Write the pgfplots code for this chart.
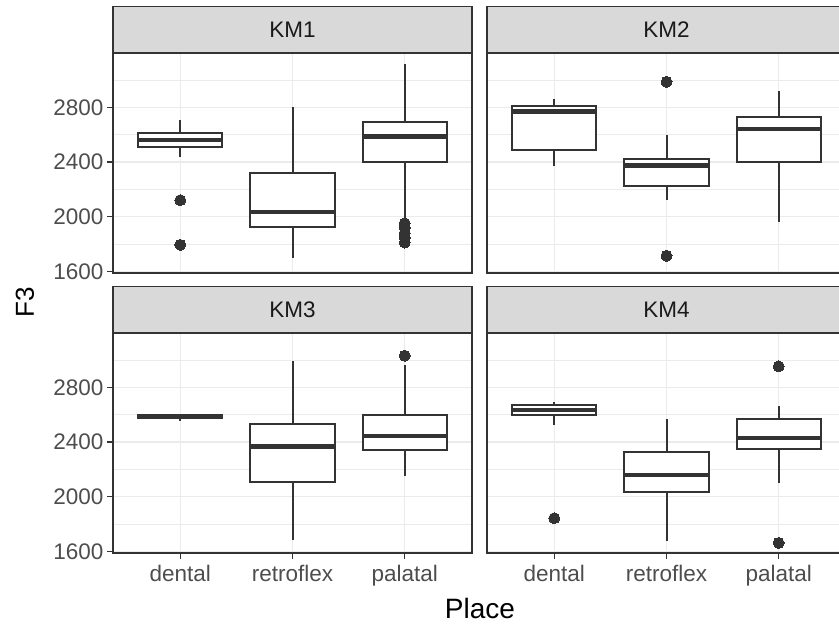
\documentclass[border=0pt]{standalone}
\usepackage{fontspec}
\setmainfont{Liberation Sans}
\usepackage{pgfplots}
\pgfplotsset{compat=1.18}
\definecolor{g20}{HTML}{333333}
\definecolor{g30}{HTML}{4D4D4D}
\definecolor{g10}{HTML}{1A1A1A}
\definecolor{stripc}{HTML}{D9D9D9}
\definecolor{gridc}{HTML}{EBEBEB}
\newcommand\tsz{\fontsize{22.5bp}{27bp}\selectfont}
\newcommand\lsz{\fontsize{28bp}{33bp}\selectfont}
\pgfplotsset{
  facet/.style={
    scale only axis, width=359bp, height=220bp, anchor=south west,
    xmin=0.4, xmax=3.6, ymin=1588, ymax=3198,
    xtick={1,2,3}, ytick={1600,2000,2400,2800}, minor ytick={1800,2200,2600,3000},
    grid=both, tick pos=left,
    major grid style={draw=gridc, line width=1.4bp},
    minor grid style={draw=gridc, line width=0.7bp},
    axis line style={draw=g20, line width=1.4bp},
    tick align=outside, major tick length=6bp, minor tick length=0pt,
    tick style={draw=g20, line width=1.4bp},
    ticklabel style={font=\tsz, text=g30},
    xticklabel style={yshift=-3bp},
    every axis title shift=0pt,
    title style={at={(0.5,1)}, anchor=south, yshift=0pt, fill=stripc, draw=g20,
      line width=1.4bp, minimum width=359bp, minimum height=46bp, inner sep=0pt,
      font=\tsz, text=g10},
    clip=false,
  },
  bline/.style={draw=g20, line width=2bp, mark=none, solid},
  mline/.style={draw=g20, line width=4.5bp, mark=none, solid},
  omark/.style={only marks, mark=*, mark size=5.5bp, mark options={draw=g20, fill=g20, line width=0pt}},
  topx/.style={xticklabels={}, x tick style={draw=none}},
  botx/.style={xticklabels={dental,retroflex,palatal}},
  lefty/.style={yticklabels={1600,2000,2400,2800}},
  righty/.style={yticklabels={}, y tick style={draw=none}},
}
% box: left x, centre x, right x, lower whisker, lower quartile, median, upper quartile, upper whisker
\newcommand\bx[8]{%
  \addplot[bline] coordinates {(#2,#4) (#2,#5)};
  \addplot[bline] coordinates {(#2,#7) (#2,#8)};
  \addplot[bline, fill=white] coordinates {(#1,#5) (#3,#5) (#3,#7) (#1,#7)} --cycle;
  \addplot[mline] coordinates {(#1,#6) (#3,#6)};
}
\begin{document}
\begin{tikzpicture}
% KM1
\begin{axis}[facet, topx, lefty, at={(113bp,355bp)}, title={KM1}]
\bx{0.625}{1}{1.375}{2436}{2509}{2562}{2613}{2708}
\bx{1.625}{2}{2.375}{1697}{1927}{2036}{2322}{2805}
\bx{2.625}{3}{3.375}{1976}{2398}{2587}{2696}{3115}
\addplot[omark] coordinates {(1,2121) (1,1794) (3,1952) (3,1918) (3,1880) (3,1845) (3,1811)};
\end{axis}
% KM2
\begin{axis}[facet, topx, righty, at={(487bp,355bp)}, title={KM2}]
\bx{0.625}{1}{1.375}{2371}{2485}{2771}{2810}{2858}
\bx{1.625}{2}{2.375}{2121}{2228}{2376}{2419}{2599}
\bx{2.625}{3}{3.375}{1964}{2400}{2642}{2727}{2921}
\addplot[omark] coordinates {(2,2987) (2,1714)};
\end{axis}
% KM3
\begin{axis}[facet, botx, lefty, at={(113bp,75bp)}, title={KM3}]
\bx{0.625}{1}{1.375}{2555}{2578}{2588}{2597}{2600}
\bx{1.625}{2}{2.375}{1680}{2110}{2368}{2534}{2995}
\bx{2.625}{3}{3.375}{2149}{2344}{2446}{2595}{2963}
\addplot[omark] coordinates {(3,3032)};
\end{axis}
% KM4
\begin{axis}[facet, botx, righty, at={(487bp,75bp)}, title={KM4}]
\bx{0.625}{1}{1.375}{2528}{2595}{2634}{2673}{2695}
\bx{1.625}{2}{2.375}{1675}{2037}{2157}{2330}{2568}
\bx{2.625}{3}{3.375}{2098}{2352}{2431}{2568}{2665}
\addplot[omark] coordinates {(1,1843) (3,2954) (3,1662)};
\end{axis}
\node[font=\lsz, anchor=base] at (480bp,10bp) {Place};
\node[font=\fontsize{26bp}{30bp}\selectfont, rotate=90, anchor=center] at (25bp,326bp) {F3};
\pgfresetboundingbox
\useasboundingbox (0,0) rectangle (839bp,628bp);
\end{tikzpicture}
\end{document}
